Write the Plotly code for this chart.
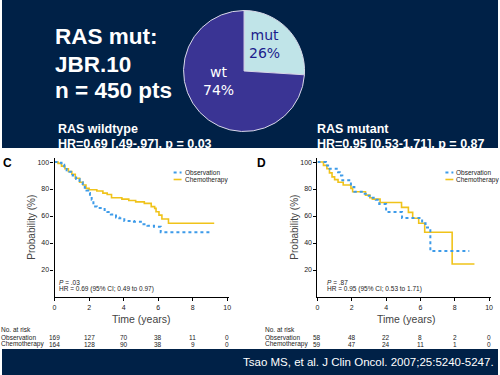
import plotly.graph_objects as go

W, H = 500, 375
NAVY = '#002147'
BLUE = '#3d9be9'
GOLD = '#f0c31a'
FONT = 'Liberation Sans, Arial, sans-serif'

# ---------------- data ----------------
pie_labels = ['mut', 'wt']
pie_values = [26, 74]

# RAS wildtype (panel C)
wt_obs_t = [0, 0.2, 0.4, 0.56, 0.7, 0.86, 1.05, 1.25, 1.45, 1.63, 1.75, 1.85, 1.95, 2.05, 2.15,
            2.25, 2.35, 2.45, 2.9, 3.06, 3.26, 3.56, 3.75, 4.04, 4.6, 5.0, 5.38, 5.76, 6.15, 9.0]
wt_obs_p = [100, 99.5, 98, 96, 94, 92.8, 90, 87.4, 85, 83, 81, 79, 77, 75, 72,
            69.5, 67, 66, 64.5, 63, 61.2, 59, 58.3, 56.3, 55.8, 54, 52.8, 52.1, 48, 48]
wt_chemo_t = [0, 0.2, 0.4, 0.6, 0.8, 1.0, 1.2, 1.45, 1.65, 1.82, 2.0, 2.45, 2.8, 3.05, 3.3,
              3.9, 4.3, 4.7, 5.2, 5.6, 5.8, 5.88, 6.05, 6.22, 6.6, 9.25]
wt_chemo_p = [100, 99, 97, 95, 93, 91, 88, 85, 83, 80.5, 79.5, 78.5, 77, 76, 73.5,
              72.5, 71.5, 70.5, 69.4, 67, 65.7, 63.2, 60.7, 57.8, 54.6, 54.6]

# RAS mutant (panel D)
mut_obs_t = [0, 0.5, 0.62, 1.2, 1.3, 1.45, 1.95, 2.15, 2.65, 2.9, 3.15, 3.4, 3.6, 4.0, 4.93,
             6.1, 6.3, 6.58, 8.85]
mut_obs_p = [100, 97.5, 95, 92.5, 90, 86.5, 81.5, 78, 76.5, 75, 73.5, 72, 69, 63, 58.5,
             54.6, 51.5, 34, 34]
mut_chemo_t = [0, 0.35, 0.55, 0.7, 0.85, 1.0, 1.2, 1.5, 1.95, 2.05, 2.8, 3.05, 3.2, 3.65,
               4.9, 5.3, 5.55, 5.9, 6.25, 7.85, 9.15]
mut_chemo_p = [100, 97.5, 95, 92, 89, 87, 85, 83, 80.5, 78, 75.5, 73.5, 72.5, 70,
               66.4, 62.7, 58.3, 54.6, 48, 24.4, 24.4]

risk_times = [0, 2, 4, 6, 8, 10]
wt_risk_obs = [169, 127, 70, 38, 11, 0]
wt_risk_chemo = [164, 128, 90, 38, 9, 0]
mut_risk_obs = [58, 48, 22, 8, 2, 0]
mut_risk_chemo = [59, 47, 24, 11, 1, 0]

x_ticks = [0, 2, 4, 6, 8, 10]
y_ticks = [20, 40, 60, 80, 100]
series_names = ['Observation', 'Chemotherapy']


def px(x):
    return x / W


def py(y):
    return 1 - y / H


fig = go.Figure()

# ---------------- pie ----------------
fig.add_trace(go.Pie(
    labels=pie_labels, values=pie_values, sort=False, direction='clockwise', rotation=0,
    marker=dict(colors=['#c0e4e8', '#3a3494'], line=dict(color='#d8d8e8', width=1)),
    textinfo='none',
    domain=dict(x=[px(183), px(305)], y=[py(132), py(10)]),
    showlegend=False, hoverinfo='label+percent'))

# ---------------- KM curves ----------------
panels = [
    ('x', 'y', wt_obs_t, wt_obs_p, wt_chemo_t, wt_chemo_p),
    ('x2', 'y2', mut_obs_t, mut_obs_p, mut_chemo_t, mut_chemo_p),
]
for xa, ya, ot, op, ct, cp in panels:
    fig.add_trace(go.Scatter(x=ct, y=cp, mode='lines', line=dict(color=GOLD, width=1.6, shape='hv'),
                             name=series_names[1], xaxis=xa, yaxis=ya, showlegend=False))
    fig.add_trace(go.Scatter(x=ot, y=op, mode='lines',
                             line=dict(color=BLUE, width=2, shape='hv', dash='dot'),
                             name=series_names[0], xaxis=xa, yaxis=ya, showlegend=False))

axis_common = dict(showline=True, linecolor='black', linewidth=1.2, ticks='outside', ticklen=3,
                   tickwidth=1, tickcolor='black', showgrid=False, zeroline=False,
                   tickfont=dict(family=FONT, size=7, color='#222'))
fig.update_layout(
    xaxis=dict(domain=[px(53), px(228.7)], range=[0, 10.1], tickvals=x_ticks, anchor='y', **axis_common),
    yaxis=dict(domain=[py(297), py(158)], range=[0, 103], tickvals=y_ticks, anchor='x', **axis_common),
    xaxis2=dict(domain=[px(318), px(492.7)], range=[0, 10.1], tickvals=x_ticks, anchor='y2', **axis_common),
    yaxis2=dict(domain=[py(297), py(158)], range=[0, 103], tickvals=y_ticks, anchor='x2', **axis_common),
)

# ---------------- background bands ----------------
shapes = [
    dict(type='rect', xref='paper', yref='paper', x0=0, x1=1, y0=py(148), y1=1,
         fillcolor=NAVY, line=dict(width=0), layer='below'),
    dict(type='rect', xref='paper', yref='paper', x0=0, x1=1, y0=0, y1=py(349),
         fillcolor=NAVY, line=dict(width=0), layer='below'),
]
# legend swatches
for lx in (173, 447):
    shapes.append(dict(type='line', xref='paper', yref='paper', x0=px(lx), x1=px(lx + 8),
                       y0=py(172.5), y1=py(172.5), line=dict(color=BLUE, width=2, dash='dot')))
    shapes.append(dict(type='line', xref='paper', yref='paper', x0=px(lx), x1=px(lx + 8),
                       y0=py(179.5), y1=py(179.5), line=dict(color=GOLD, width=1.6)))
fig.update_layout(shapes=shapes)

ann = []


def A(text, x, y, size, color='black', xanchor='left', yanchor='middle', family=FONT, **kw):
    ann.append(dict(text=text, x=px(x), y=py(y), xref='paper', yref='paper', xanchor=xanchor,
                    yanchor=yanchor, showarrow=False, font=dict(family=family, size=size, color=color), **kw))


# pie labels (from data)
total = sum(pie_values)
PIEFONT = 'DejaVu Sans, Verdana, sans-serif'
for lab, val, (cx, cy), col in zip(pie_labels, pie_values, [(265, 44), (218, 81)], ['#1c1c8c', 'white']):
    A(f'{lab}<br>{round(100 * val / total)}%', cx, cy, 14, col, xanchor='center', family=PIEFONT)

# title block
A('<b>RAS mut:</b>', 51, 36.5, 22.5, 'white')
A('<b>JBR.10</b>', 51, 64.5, 22.5, 'white')
A('<b>n = 450 pts</b>', 51, 90.5, 22.5, 'white')

# subtitles
A('<b>RAS wildtype</b>', 54, 129, 12.5, 'white')
A('<b>HR=0.69 [.49-.97], p = 0.03</b>', 54, 143.5, 12.5, 'white')
A('<b>RAS mutant</b>', 316, 129, 12.5, 'white')
A('<b>HR=0.95 [0.53-1.71], p = 0.87</b>', 316, 143.5, 12.5, 'white')

# panel letters
A('<b>C</b>', -1, 163, 12, 'black')
A('<b>D</b>', 255, 163, 12, 'black')

# legends
for lx in (182, 456):
    A(series_names[0], lx, 172.5, 6.5, '#222')
    A(series_names[1], lx, 179.5, 6.5, '#222')

# in-plot stats
A('<i>P</i> = .03', 55, 282, 6.5, '#222')
A('HR = 0.69 (95% CI; 0.49 to 0.97)', 55, 289, 6.5, '#222')
A('<i>P</i> = .87', 326, 282, 6.5, '#222')
A('HR = 0.95 (95% CI; 0.53 to 1.71)', 326, 289, 6.5, '#222')

# axis titles
for xc in (30, 295):
    ann.append(dict(text='Probability (%)', x=px(xc), y=py(227), xref='paper', yref='paper',
                    textangle=-90, showarrow=False, xanchor='center', yanchor='middle',
                    font=dict(family=FONT, size=10, color='#444')))
A('Time (years)', 141, 319, 10.5, '#444', xanchor='center')
A('Time (years)', 408, 319, 10.5, '#444', xanchor='center')

# number at risk tables
for xa, xl, ro, rc in (('x', -3, wt_risk_obs, wt_risk_chemo), ('x2', 263, mut_risk_obs, mut_risk_chemo)):
    A('No. at risk', xl, 329.5, 6.5, '#222')
    A(series_names[0], xl, 337, 6.5, '#222')
    A(series_names[1], xl, 344, 6.5, '#222')
    for t, a, b in zip(risk_times, ro, rc):
        ann.append(dict(text=str(a), x=t, y=py(337), xref=xa, yref='paper', showarrow=False,
                        xanchor='center', yanchor='middle', font=dict(family=FONT, size=6.5, color='#222')))
        ann.append(dict(text=str(b), x=t, y=py(344), xref=xa, yref='paper', showarrow=False,
                        xanchor='center', yanchor='middle', font=dict(family=FONT, size=6.5, color='#222')))

# citation
A('Tsao MS, et al. J Clin Oncol. 2007;25:5240-5247.', 498, 362, 11.5, 'white', xanchor='right',
  family='Liberation Sans Narrow, Arial Narrow, Liberation Sans, sans-serif')

fig.update_layout(annotations=ann, width=W, height=H, margin=dict(l=0, r=0, t=0, b=0),
                  paper_bgcolor='white', plot_bgcolor='rgba(0,0,0,0)', showlegend=False,
                  font=dict(family=FONT))

fig.write_html('out.html', config={'displayModeBar': False},
               post_script="document.body.style.margin='0';document.body.style.overflow='hidden';")
